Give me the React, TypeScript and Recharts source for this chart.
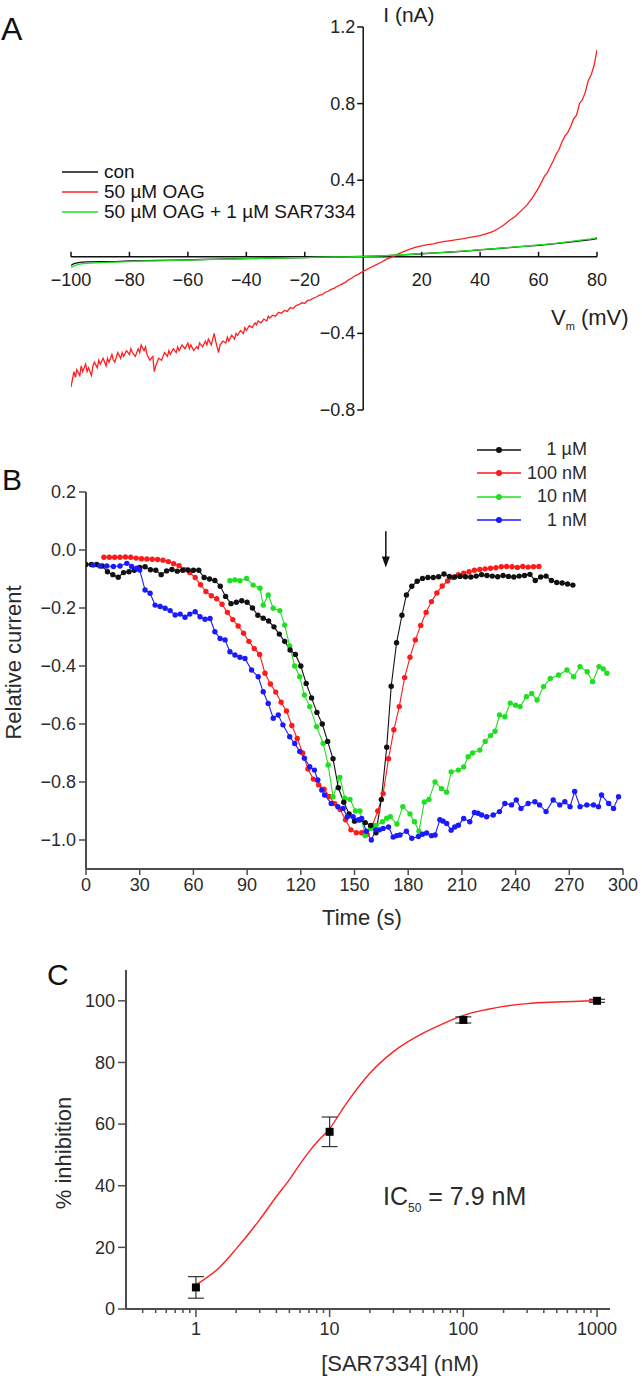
import React from 'react';
import {
  LineChart,
  Line,
  XAxis,
  YAxis,
  ReferenceLine,
  ReferenceDot,
  Legend,
  ComposedChart,
  Scatter,
  ErrorBar,
} from 'recharts';

const FONT = '"Liberation Sans", Arial, Helvetica, sans-serif';
const AXIS_GRAY = '#4d4d4d';
const TEXT_GRAY = '#2b2b2b';

const fmt = (v: number, d: number) => (v < 0 ? '\u2212' : '') + Math.abs(v).toFixed(d);

// ---------------- Panel A data ----------------
const aXTicks = [-100, -80, -60, -40, -20, 20, 40, 60, 80];
const aYTicks = [1.2, 0.8, 0.4, -0.4, -0.8];
const aNames = ['con', '50 \u00b5M OAG', '50 \u00b5M OAG + 1 \u00b5M SAR7334'];
const aColors = ['#111111', '#ff1f1f', '#22e022'];

const aCon: [number, number][] = [
  [-100, -0.045], [-99, -0.036], [-97, -0.029], [-95, -0.027], [-90, -0.025], [-85, -0.025],
  [-80, -0.022], [-75, -0.02], [-70, -0.019], [-65, -0.018], [-60, -0.016], [-55, -0.014],
  [-50, -0.012], [-45, -0.011], [-40, -0.01], [-35, -0.008], [-30, -0.006], [-25, -0.005],
  [-20, -0.004], [-15, -0.002], [-10, -0.001], [-5, 0.001], [0, 0.002], [5, 0.004], [10, 0.007],
  [15, 0.011], [20, 0.016], [25, 0.02], [30, 0.025], [35, 0.03], [40, 0.036], [45, 0.042],
  [50, 0.048], [55, 0.054], [60, 0.06], [65, 0.067], [70, 0.076], [75, 0.085], [78, 0.09], [80, 0.095],
];

const aOag: [number, number][] = [
  [-100, -0.68], [-99.5, -0.64], [-99, -0.6], [-98.5, -0.63], [-98, -0.59], [-97, -0.62],
  [-96.5, -0.57], [-96, -0.6], [-95, -0.56], [-94.5, -0.6], [-94, -0.58], [-93, -0.62],
  [-92.5, -0.57], [-92, -0.55], [-91, -0.58], [-90.5, -0.54], [-90, -0.56], [-89, -0.53],
  [-88, -0.57], [-87.5, -0.53], [-87, -0.55], [-86, -0.51], [-85.5, -0.54], [-85, -0.55],
  [-84, -0.5], [-83, -0.53], [-82.5, -0.5], [-82, -0.52], [-81, -0.49], [-80, -0.51],
  [-79.5, -0.48], [-79, -0.5], [-78, -0.52], [-77, -0.48], [-76.5, -0.5], [-76, -0.46],
  [-75, -0.49], [-74.5, -0.47], [-74, -0.51], [-73, -0.54], [-72, -0.52], [-71.5, -0.6],
  [-71, -0.57], [-70, -0.53], [-69, -0.54], [-68, -0.5], [-67, -0.52], [-66.5, -0.49],
  [-66, -0.51], [-65, -0.48], [-64, -0.5], [-63.5, -0.47], [-63, -0.49], [-62, -0.46],
  [-61, -0.48], [-60, -0.45], [-59.5, -0.48], [-59, -0.46], [-58, -0.49], [-57, -0.47],
  [-56.5, -0.48], [-56, -0.45], [-55, -0.47], [-54, -0.44], [-53.5, -0.46], [-53, -0.43],
  [-52, -0.46], [-51, -0.4], [-50.5, -0.44], [-50, -0.47], [-49.5, -0.5], [-49, -0.46],
  [-48, -0.44], [-47, -0.45], [-46.5, -0.42], [-46, -0.44], [-45, -0.41], [-44, -0.43],
  [-43.5, -0.4], [-43, -0.41], [-42, -0.385], [-41, -0.4], [-40.5, -0.37], [-40, -0.385],
  [-39, -0.36], [-38, -0.37], [-37, -0.345], [-36.5, -0.355], [-36, -0.335], [-35, -0.345],
  [-34, -0.325], [-33, -0.335], [-32.5, -0.31], [-32, -0.32], [-31, -0.305], [-30, -0.31],
  [-29, -0.29], [-28, -0.295], [-27, -0.28], [-26, -0.285], [-25, -0.265], [-24, -0.27],
  [-23, -0.255], [-22, -0.25], [-21, -0.24], [-20, -0.243], [-19, -0.228], [-18, -0.225],
  [-17, -0.215], [-16, -0.21], [-15, -0.2], [-14, -0.198], [-13, -0.185], [-12, -0.18],
  [-11, -0.17], [-10, -0.165], [-9, -0.155], [-8, -0.148], [-7, -0.14], [-6, -0.132],
  [-5, -0.12], [-4, -0.112], [-3, -0.1], [-2, -0.094], [-1, -0.085], [0, -0.076], [2, -0.06],
  [4, -0.045], [6, -0.03], [8, -0.012], [10, 0.0], [12, 0.015], [14, 0.028], [16, 0.04], [18, 0.05],
  [20, 0.057], [22, 0.064], [24, 0.068], [26, 0.075], [28, 0.08], [30, 0.085], [32, 0.09],
  [34, 0.094], [36, 0.1], [38, 0.105], [40, 0.11], [42, 0.12], [44, 0.13], [46, 0.145], [48, 0.165],
  [50, 0.19], [52, 0.21], [54, 0.24], [56, 0.27], [58, 0.31], [60, 0.36], [62, 0.42], [63, 0.44],
  [64, 0.47], [65, 0.5], [66, 0.535], [67, 0.56], [68, 0.6], [69, 0.63], [70, 0.65], [71, 0.68],
  [72, 0.72], [73, 0.74], [74, 0.8], [75, 0.82], [76, 0.86], [77, 0.92], [78, 0.95], [79, 1.0],
  [80, 1.08],
];

const aOagSar: [number, number][] = [
  [-100, -0.055], [-98, -0.042], [-96, -0.036], [-93, -0.033], [-90, -0.03], [-85, -0.028],
  [-80, -0.025], [-75, -0.022], [-70, -0.021], [-65, -0.019], [-60, -0.017], [-55, -0.015],
  [-50, -0.013], [-45, -0.012], [-40, -0.01], [-35, -0.008], [-30, -0.007], [-25, -0.005],
  [-20, -0.004], [-15, -0.002], [-10, -0.001], [-5, 0.0], [0, 0.002], [5, 0.004], [10, 0.008],
  [15, 0.012], [20, 0.017], [25, 0.021], [30, 0.026], [35, 0.031], [40, 0.037], [45, 0.043],
  [50, 0.049], [55, 0.055], [60, 0.062], [65, 0.069], [70, 0.078], [75, 0.088], [78, 0.094], [80, 0.1],
];

// ---------------- Panel B data ----------------
const bXTicks = [0, 30, 60, 90, 120, 150, 180, 210, 240, 270, 300];
const bYTicks = [0.2, 0.0, -0.2, -0.4, -0.6, -0.8, -1.0];
const bNames = ['1 \u00b5M', '100 nM', '10 nM', '1 nM'];
const bColors = ['#111111', '#ff1a1a', '#1fe01f', '#1a1aff'];
const bArrow = { t: 167.5, from: 0.065, to: -0.06 };

const b1uM: [number, number][] = [
  [0, -0.05], [3, -0.05], [6, -0.05], [9, -0.055], [12, -0.075], [15, -0.085], [18, -0.094],
  [21, -0.078], [24, -0.075], [27, -0.07], [30, -0.06], [33, -0.058], [36, -0.068], [39, -0.07],
  [42, -0.085], [45, -0.072], [48, -0.067], [51, -0.073], [54, -0.07], [57, -0.069], [60, -0.07],
  [63, -0.07], [66, -0.095], [69, -0.1], [72, -0.105], [75, -0.125], [78, -0.16], [81, -0.185],
  [84, -0.18], [87, -0.175], [90, -0.18], [93, -0.2], [96, -0.225], [99, -0.235], [102, -0.245],
  [105, -0.265], [108, -0.29], [111, -0.315], [114, -0.345], [117, -0.36], [120, -0.4], [123, -0.46],
  [126, -0.51], [129, -0.56], [132, -0.6], [135, -0.66], [138, -0.72], [141, -0.82], [144, -0.87],
  [147, -0.91], [150, -0.935], [153, -0.93], [156, -0.94], [159, -0.95], [162, -0.975], [165, -0.86],
  [168, -0.68], [170.5, -0.47], [173.5, -0.32], [176.5, -0.225], [179, -0.155], [182, -0.125],
  [185, -0.108], [188, -0.098], [191, -0.095], [194, -0.095], [197, -0.092], [200, -0.083],
  [203, -0.091], [206, -0.093], [209, -0.091], [212, -0.092], [215, -0.093], [218, -0.09],
  [221, -0.085], [224, -0.088], [227, -0.09], [230, -0.092], [233, -0.088], [236, -0.091],
  [239, -0.093], [242, -0.09], [245, -0.088], [248, -0.084], [251, -0.105], [254, -0.093],
  [257, -0.09], [260, -0.105], [263, -0.112], [266, -0.114], [269, -0.117], [272, -0.121],
];

const b100nM: [number, number][] = [
  [10, -0.025], [13, -0.025], [16, -0.025], [19, -0.025], [22, -0.024], [25, -0.025], [28, -0.028],
  [31, -0.03], [34, -0.031], [37, -0.032], [40, -0.033], [43, -0.035], [46, -0.04], [49, -0.047],
  [52, -0.054], [55, -0.068], [58, -0.078], [61, -0.095], [64, -0.12], [67, -0.143], [70, -0.158],
  [73, -0.168], [76, -0.187], [79, -0.215], [82, -0.24], [85, -0.262], [88, -0.287], [91, -0.315],
  [94, -0.34], [97, -0.36], [100, -0.425], [103, -0.462], [106, -0.49], [109, -0.525], [112, -0.555],
  [115, -0.605], [118, -0.65], [121, -0.7], [124, -0.755], [127, -0.79], [130, -0.81], [133, -0.825],
  [136, -0.85], [139, -0.875], [142, -0.895], [145, -0.93], [148, -0.965], [151, -0.975],
  [154, -0.975], [157, -0.98], [160, -0.95], [163, -0.9], [166, -0.84], [169, -0.72], [172, -0.62],
  [175, -0.54], [178, -0.44], [181, -0.37], [184, -0.31], [187, -0.26], [190, -0.215], [193, -0.178],
  [196, -0.148], [199, -0.124], [202, -0.107], [205, -0.095], [208, -0.085], [211, -0.08],
  [214, -0.075], [217, -0.07], [220, -0.067], [223, -0.065], [226, -0.063], [229, -0.061],
  [232, -0.058], [235, -0.057], [238, -0.058], [241, -0.06], [244, -0.057], [247, -0.059],
  [250, -0.058], [253, -0.057],
];

const b10nM: [number, number][] = [
  [80.4, -0.106], [83.2, -0.103], [86, -0.106], [89.7, -0.098], [93.4, -0.121], [97.2, -0.132],
  [99, -0.19], [101.8, -0.155], [104.6, -0.201], [108.3, -0.209], [111, -0.259], [113.8, -0.331],
  [116.6, -0.4], [119.4, -0.437], [122, -0.5], [125, -0.54], [128.8, -0.609], [132.5, -0.667],
  [135.3, -0.741], [138, -0.851], [141.8, -0.784], [144.6, -0.856], [147.5, -0.86], [150.5, -0.9],
  [153, -0.9], [156, -0.985], [159, -0.96], [162, -0.95], [165.6, -0.937], [168, -0.925],
  [170, -0.92], [173.7, -0.945], [177, -0.885], [181, -0.91], [183.5, -0.937], [186, -0.97],
  [189, -0.869], [191.6, -0.86], [195, -0.8], [198.6, -0.823], [201.5, -0.835], [204, -0.765],
  [208, -0.759], [211, -0.748], [213.5, -0.713], [216, -0.7], [220, -0.69], [223, -0.66],
  [226, -0.64], [228.5, -0.625], [231, -0.569], [234, -0.575], [237, -0.528], [240, -0.535],
  [242.5, -0.54], [246, -0.506], [249, -0.495], [252, -0.517], [255.6, -0.471], [259.4, -0.443],
  [264, -0.431], [268.7, -0.414], [272.4, -0.437], [276, -0.402], [280, -0.42], [283, -0.454],
  [286.6, -0.402], [289, -0.41], [291, -0.425],
];

const b1nM: [number, number][] = [
  [4, -0.052], [7.8, -0.055], [11.6, -0.055], [15.3, -0.057], [19, -0.055], [22.8, -0.046],
  [25.5, -0.057], [28.3, -0.063], [30, -0.069], [33, -0.138], [35.8, -0.149], [38.6, -0.19],
  [41.4, -0.195], [44.2, -0.201], [47, -0.209], [49.8, -0.224], [52.6, -0.221], [55.3, -0.232],
  [58, -0.221], [61, -0.213], [63.7, -0.23], [66.5, -0.239], [69.3, -0.236], [72, -0.282],
  [74.9, -0.305], [77.7, -0.31], [80.4, -0.351], [83.2, -0.362], [86, -0.37], [88.8, -0.374],
  [92.5, -0.414], [96.2, -0.437], [99, -0.489], [101.8, -0.529], [104.6, -0.58], [107.4, -0.569],
  [110, -0.603], [113.8, -0.644], [116.6, -0.667], [119.4, -0.695], [122, -0.718], [125, -0.747],
  [127.6, -0.759], [129.5, -0.793], [131.7, -0.828], [133.3, -0.845], [137, -0.874], [140.7, -0.885],
  [143.6, -0.891], [146, -0.92], [149.2, -0.92], [152, -0.931], [154, -0.926], [156.6, -0.97],
  [159.4, -1.0], [162, -0.965], [164, -0.965], [166, -0.96], [169, -0.955], [171.6, -0.99],
  [173.5, -0.985], [175.4, -0.983], [179, -0.97], [182, -0.994], [185.7, -0.988], [188, -0.98],
  [190.3, -0.976], [193, -0.985], [195, -0.983], [197.7, -0.93], [199.5, -0.935], [201.5, -0.943],
  [204, -0.966], [206, -0.955], [208, -0.949], [211, -0.926], [214.4, -0.937], [217, -0.905],
  [219, -0.908], [221, -0.914], [223.8, -0.92], [227.5, -0.914], [231, -0.902], [234, -0.874],
  [237.7, -0.879], [240.4, -0.862], [243, -0.891], [247, -0.874], [250.8, -0.868], [253.4, -0.879],
  [257, -0.902], [261, -0.862], [264.7, -0.879], [267.5, -0.868], [270.4, -0.885], [273, -0.833],
  [276, -0.885], [279.8, -0.879], [283.5, -0.879], [286.3, -0.885], [288, -0.845], [292, -0.874],
  [294.7, -0.891], [297.5, -0.851],
];

// ---------------- Panel C data ----------------
const cMajorTicks = [1, 10, 100, 1000];
const cMinorTicks = [
  0.4, 0.5, 0.6, 0.7, 0.8, 0.9, 2, 3, 4, 5, 6, 7, 8, 9, 20, 30, 40, 50, 60, 70, 80, 90,
  200, 300, 400, 500, 600, 700, 800, 900,
];
const cYTicks = [0, 20, 40, 60, 80, 100];
const cConc = [1, 10, 100, 1000];
const cInhibition = [7, 57.5, 93.8, 100];
const cSem = [3.5, 4.8, 1.0, 0.5];
const cFitConc = [1, 1.5, 2, 3, 4, 5, 6, 7, 8, 10, 13, 20, 30, 50, 70, 100, 150, 200, 300, 500, 1000];
const cFitInhibition = [7.8, 13.5, 19.5, 29, 36.5, 42, 47, 51, 54, 58.5, 66, 76.5, 83.5, 89.5, 92.5, 95.3, 97.2, 98.2, 99.1, 99.6, 100];

// ---------------- helpers ----------------
const toVI = (arr: [number, number][]) => arr.map(([v, i]) => ({ v, i }));
const toTV = (arr: [number, number][]) => arr.map(([t, r]) => ({ t, r }));

const sortByNames = (payload: any[], names: string[]) =>
  [...(payload || [])].sort((a, b) => names.indexOf(a.value) - names.indexOf(b.value));

const LegendA = (props: any) => {
  const items = sortByNames(props.payload, aNames);
  return (
    <div style={{ fontFamily: FONT, fontSize: 19, color: '#151515' }}>
      {items.map((it: any) => (
        <div key={it.value} style={{ display: 'flex', alignItems: 'center', height: 20, whiteSpace: 'nowrap' }}>
          <svg width={36} height={6} style={{ marginRight: 6 }}>
            <line x1={0} y1={3} x2={36} y2={3} stroke={it.color} strokeWidth={1.6} />
          </svg>
          <span>{it.value}</span>
        </div>
      ))}
    </div>
  );
};

const LegendB = (props: any) => {
  const items = sortByNames(props.payload, bNames);
  return (
    <div style={{ fontFamily: FONT, fontSize: 18, color: TEXT_GRAY }}>
      {items.map((it: any) => (
        <div key={it.value} style={{ display: 'flex', alignItems: 'center', height: 23.5, whiteSpace: 'nowrap' }}>
          <svg width={44} height={10}>
            <line x1={0} y1={5} x2={44} y2={5} stroke={it.color} strokeWidth={1.5} />
            <circle cx={22} cy={5} r={3} fill={it.color} />
          </svg>
          <span style={{ display: 'inline-block', width: 66, textAlign: 'right' }}>{it.value}</span>
        </div>
      ))}
    </div>
  );
};

const AYTick = (props: any) => {
  const { cx, cy, value } = props;
  return (
    <g>
      <line x1={cx - 6} y1={cy} x2={cx} y2={cy} stroke="#111" strokeWidth={1.5} />
      <text x={cx - 8} y={cy + 6} textAnchor="end" fontSize={18} fontFamily={FONT} fill="#222">
        {fmt(value, 1)}
      </text>
    </g>
  );
};

const AXTick = (props: any) => {
  const { cx, cy, value } = props;
  return (
    <g>
      <line x1={cx} y1={cy - 5} x2={cx} y2={cy} stroke="#111" strokeWidth={1.5} />
      <text x={cx} y={cy + 29} textAnchor="middle" fontSize={18} fontFamily={FONT} fill="#222">
        {fmt(value, 0)}
      </text>
    </g>
  );
};

const ArrowShape = (props: any) => {
  const { x1, y1, x2, y2 } = props;
  return (
    <g>
      <line x1={x1} y1={y1} x2={x2} y2={y2 - 8} stroke="#111" strokeWidth={1.5} />
      <polygon points={`${x2 - 4},${y2 - 11} ${x2 + 4},${y2 - 11} ${x2},${y2}`} fill="#111" />
    </g>
  );
};

const CXTick = (props: any) => {
  const { x, y, payload } = props;
  const v = payload.value;
  const major = cMajorTicks.includes(v);
  const axisY = y - 10;
  return (
    <g>
      <line x1={x} y1={axisY} x2={x} y2={axisY + (major ? 8 : 4)} stroke={AXIS_GRAY} strokeWidth={1.5} />
      {major && (
        <text x={x} y={axisY + 26} textAnchor="middle" fontSize={18} fontFamily={FONT} fill={TEXT_GRAY}>
          {v}
        </text>
      )}
    </g>
  );
};

const vTitle = (text: string, dx: number, dy: number) => (props: any) => {
  const vb = props.viewBox || {};
  const cx = vb.x + dx;
  const cy = vb.y + vb.height / 2 + dy;
  return (
    <text
      x={cx}
      y={cy}
      transform={`rotate(-90 ${cx} ${cy})`}
      textAnchor="middle"
      dominantBaseline="central"
      fontSize={22}
      fontFamily={FONT}
      fill={TEXT_GRAY}
    >
      {text}
    </text>
  );
};

const hTitle = (text: string, dx: number, dy: number) => (props: any) => {
  const vb = props.viewBox || {};
  const cx = vb.x + vb.width / 2 + dx;
  const cy = vb.y + dy;
  return (
    <text x={cx} y={cy} textAnchor="middle" dominantBaseline="central" fontSize={22} fontFamily={FONT} fill={TEXT_GRAY}>
      {text}
    </text>
  );
};

const abs = (left: number, top: number): React.CSSProperties => ({ position: 'absolute', left, top });

function PanelA() {
  const series = [aCon, aOag, aOagSar];
  return (
    <div style={abs(0, 0)}>
      <LineChart width={642} height={430} margin={{ top: 27, right: 45, bottom: 20, left: 71 }}>
        <XAxis type="number" dataKey="v" domain={[-100, 80]} hide allowDataOverflow />
        <YAxis type="number" dataKey="i" domain={[-0.8, 1.2]} hide allowDataOverflow />
        <ReferenceLine x={0} stroke="#111" strokeWidth={1.5} />
        <ReferenceLine y={0} stroke="#111" strokeWidth={1.5} />
        {aYTicks.map((t) => (
          <ReferenceDot key={`ay${t}`} x={0} y={t} r={0} shape={(p: any) => <AYTick {...p} value={t} />} />
        ))}
        {aXTicks.map((t) => (
          <ReferenceDot key={`ax${t}`} x={t} y={0} r={0} shape={(p: any) => <AXTick {...p} value={t} />} />
        ))}
        <ReferenceDot
          x={0}
          y={1.2}
          r={0}
          shape={(p: any) => (
            <text x={p.cx + 20} y={p.cy - 5} fontSize={21} fontFamily={FONT} fill="#222">
              I (nA)
            </text>
          )}
        />
        <ReferenceDot
          x={80}
          y={0}
          r={0}
          shape={(p: any) => (
            <text x={p.cx - 46} y={p.cy + 68} fontSize={22} fontFamily={FONT} fill="#222">
              V
              <tspan fontSize={11} dy={5}>
                m
              </tspan>
              <tspan dy={-5}> (mV)</tspan>
            </text>
          )}
        />
        {series.map((s, k) => (
          <Line
            key={aNames[k]}
            data={toVI(s)}
            dataKey="i"
            name={aNames[k]}
            type="linear"
            stroke={aColors[k]}
            strokeWidth={1.3}
            dot={false}
            activeDot={false}
            isAnimationActive={false}
          />
        ))}
        <Legend
          layout="vertical"
          align="center"
          verticalAlign="middle"
          content={<LegendA />}
          wrapperStyle={{ left: 62, top: 162, width: 320 }}
        />
      </LineChart>
    </div>
  );
}

function PanelB() {
  const order = [1, 2, 0, 3];
  const series = [b1uM, b100nM, b10nM, b1nM];
  return (
    <div style={abs(0, 430)}>
      <LineChart width={642} height={510} margin={{ top: 62, right: 19, bottom: 11, left: 6 }}>
        <XAxis
          type="number"
          dataKey="t"
          domain={[0, 300]}
          ticks={bXTicks}
          interval={0}
          allowDataOverflow
          height={60}
          tickSize={6}
          tickMargin={3}
          axisLine={{ stroke: AXIS_GRAY, strokeWidth: 2 }}
          tickLine={{ stroke: AXIS_GRAY, strokeWidth: 1.5 }}
          tick={{ fontSize: 18, fill: TEXT_GRAY, fontFamily: FONT }}
          label={hTitle('Time (s)', 7.5, 48)}
        />
        <YAxis
          type="number"
          dataKey="r"
          domain={[-1.1, 0.2]}
          ticks={bYTicks}
          interval={0}
          allowDataOverflow
          width={80}
          tickSize={7}
          tickMargin={3}
          tickFormatter={(v: number) => fmt(v, 1)}
          axisLine={{ stroke: AXIS_GRAY, strokeWidth: 2 }}
          tickLine={{ stroke: AXIS_GRAY, strokeWidth: 1.5 }}
          tick={{ fontSize: 18, fill: TEXT_GRAY, fontFamily: FONT }}
          label={vTitle('Relative current', 7, -18)}
        />
        <ReferenceLine
          segment={[
            { x: bArrow.t, y: bArrow.from },
            { x: bArrow.t, y: bArrow.to },
          ]}
          shape={(p: any) => <ArrowShape {...p} />}
        />
        {order.map((k) => (
          <Line
            key={bNames[k]}
            data={toTV(series[k])}
            dataKey="r"
            name={bNames[k]}
            type="linear"
            stroke={bColors[k]}
            strokeWidth={1.1}
            dot={{ r: 2.7, fill: bColors[k], stroke: 'none' }}
            activeDot={false}
            isAnimationActive={false}
          />
        ))}
        <Legend
          layout="vertical"
          align="center"
          verticalAlign="middle"
          content={<LegendB />}
          wrapperStyle={{ left: 477, top: 8, width: 112 }}
        />
      </LineChart>
    </div>
  );
}

function PanelC() {
  const points = cConc.map((x, i) => ({ x, y: cInhibition[i], err: cSem[i] }));
  const fit = cFitConc.map((x, i) => ({ x, y: cFitInhibition[i] }));
  return (
    <div style={abs(0, 940)}>
      <ComposedChart width={642} height={436} margin={{ top: 30, right: 32, bottom: 7, left: 36 }}>
        <XAxis
          type="number"
          dataKey="x"
          scale="log"
          domain={[0.3, 1250]}
          ticks={[...cMinorTicks, ...cMajorTicks].sort((a, b) => a - b)}
          interval={0}
          allowDataOverflow
          height={60}
          tickSize={8}
          tickMargin={2}
          tickLine={false}
          axisLine={{ stroke: AXIS_GRAY, strokeWidth: 2 }}
          tick={<CXTick />}
          label={hTitle('[SAR7334] (nM)', 32, 54)}
        />
        <YAxis
          type="number"
          dataKey="y"
          domain={[0, 110]}
          ticks={cYTicks}
          interval={0}
          allowDataOverflow
          width={90}
          tickSize={8}
          tickMargin={3}
          axisLine={{ stroke: AXIS_GRAY, strokeWidth: 2 }}
          tickLine={{ stroke: AXIS_GRAY, strokeWidth: 1.5 }}
          tick={{ fontSize: 18, fill: TEXT_GRAY, fontFamily: FONT }}
          label={vTitle('% inhibition', 27, 13.5)}
        />
        <Line
          data={fit}
          dataKey="y"
          type="monotone"
          stroke="#ff2020"
          strokeWidth={1.4}
          dot={false}
          activeDot={false}
          isAnimationActive={false}
          legendType="none"
        />
        <Scatter data={points} dataKey="y" fill="#000" shape="square" isAnimationActive={false}>
          <ErrorBar dataKey="err" direction="y" width={8} stroke="#333" strokeWidth={1.2} />
        </Scatter>
      </ComposedChart>
    </div>
  );
}

export default function App() {
  return (
    <div
      style={{
        position: 'absolute',
        left: 0,
        top: 0,
        width: 642,
        height: 1376,
        background: '#fff',
        fontFamily: FONT,
        overflow: 'hidden',
      }}
    >
      <PanelA />
      <PanelB />
      <PanelC />
      <div style={{ ...abs(1, 13), fontSize: 32, lineHeight: '32px', color: '#111' }}>A</div>
      <div style={{ ...abs(2, 465), fontSize: 30, lineHeight: '30px', color: '#111' }}>B</div>
      <div style={{ ...abs(47, 960), fontSize: 30, lineHeight: '30px', color: '#111' }}>C</div>
      <div style={{ ...abs(383, 1184), fontSize: 25, lineHeight: '25px', color: TEXT_GRAY, whiteSpace: 'nowrap' }}>
        IC
        <span style={{ fontSize: 12, position: 'relative', top: 7 }}>50</span> = 7.9 nM
      </div>
    </div>
  );
}
